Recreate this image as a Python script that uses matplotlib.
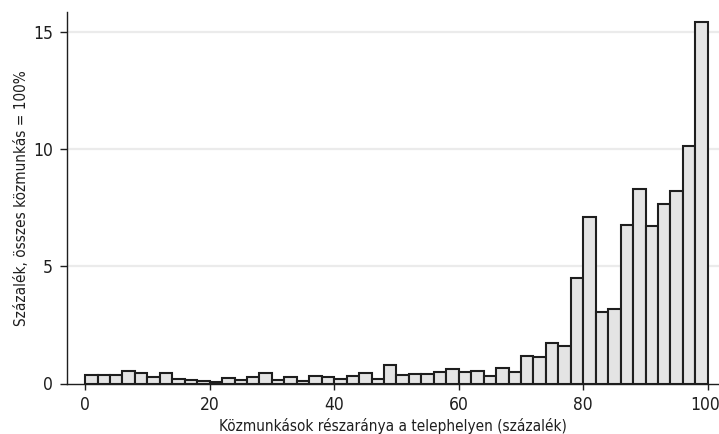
import matplotlib
matplotlib.use("Agg")
import matplotlib.pyplot as plt
from matplotlib import font_manager as fm
from matplotlib.transforms import ScaledTranslation

# pick a condensed sans if one is installed
fam, stretch = 'Liberation Sans', 'normal'
names = {}
for f in fm.fontManager.ttflist:
    names.setdefault(f.name, set()).add(str(f.stretch))
if 'Liberation Sans Narrow' in names:
    fam, stretch = 'Liberation Sans Narrow', 'normal'
elif any(s in ('condensed', 'semi-condensed', '75', '87.5') for s in names.get('DejaVu Sans', [])):
    fam, stretch = 'DejaVu Sans', 'condensed'
elif 'Roboto Condensed' in names:
    fam, stretch = 'Roboto Condensed', 'normal'
plt.rcParams['font.family'] = [fam, 'DejaVu Sans']
plt.rcParams['font.stretch'] = stretch

# Histogram: share of public workers at the site (%), bin width 2
bin_width = 2
bin_starts = list(range(0, 100, bin_width))
percent = [
    0.38, 0.38, 0.38, 0.52, 0.45, 0.26, 0.46, 0.20, 0.17, 0.12,
    0.06, 0.25, 0.17, 0.28, 0.45, 0.17, 0.28, 0.10, 0.33, 0.28,
    0.18, 0.30, 0.43, 0.20, 0.80, 0.37, 0.40, 0.40, 0.48, 0.60,
    0.48, 0.54, 0.34, 0.65, 0.50, 1.19, 1.14, 1.73, 1.59, 4.50,
    7.11, 3.05, 3.20, 6.76, 8.29, 6.72, 7.65, 8.22, 10.14, 15.43,
]
x_ticks = [0, 20, 40, 60, 80, 100]
y_ticks = [0, 5, 10, 15]
x_label = "Közmunkások részaránya a telephelyen (százalék)"
y_label = "Százalék, összes közmunkás = 100%"

narrow = fam != 'Liberation Sans'
tick_fs = 12.5 if narrow else 11
lab_fs = 11 if narrow else 9.5

fig = plt.figure(figsize=(7.19, 4.34), dpi=100)
ax = fig.add_axes([67/719, 50.5/434, 652/719, 371.5/434])

ax.bar(bin_starts, percent, width=bin_width, align='edge',
       color='#e4e4e4', edgecolor='#1e1e1e', linewidth=1.5, zorder=3)

for yt in y_ticks[1:]:
    ax.axhline(yt, color='#ebebeb', linewidth=1.6, zorder=1)

ax.set_xlim(-2.9, 101.8)
ax.set_ylim(0, 15.86)
ax.set_xticks(x_ticks)
ax.set_yticks(y_ticks)
ax.set_xticklabels([str(v) for v in x_ticks])
ax.set_yticklabels([str(v) for v in y_ticks])

for s in ['top', 'right']:
    ax.spines[s].set_visible(False)
for s in ['left', 'bottom']:
    ax.spines[s].set_color('#1e1e1e')
    ax.spines[s].set_linewidth(1.0)

ax.tick_params(axis='x', direction='out', length=4.3, width=1.0,
               color='#1e1e1e', labelsize=tick_fs, pad=4.6, labelcolor='#1e1e1e')
ax.tick_params(axis='y', direction='out', length=5.2, width=1.0,
               color='#1e1e1e', labelsize=tick_fs, pad=5, labelcolor='#1e1e1e')

last = ax.get_xticklabels()[-1]
last.set_transform(last.get_transform() + ScaledTranslation(-3/100, 0, fig.dpi_scale_trans))

ax.set_xlabel(x_label, fontsize=lab_fs, color='#1e1e1e', labelpad=3)
ax.set_ylabel(y_label, fontsize=lab_fs, color='#1e1e1e', labelpad=3)

fig.savefig("out.png", dpi=100)
